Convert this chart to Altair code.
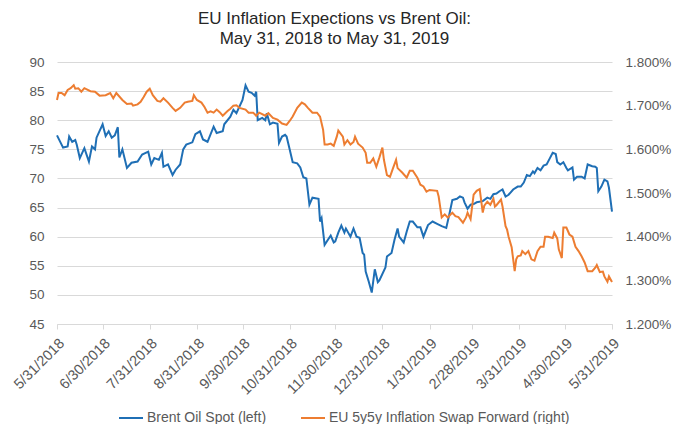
import altair as alt
import pandas as pd

TITLE = ["EU Inflation Expections vs Brent Oil:", "May 31, 2018 to May 31, 2019"]
BRENT_LABEL = "Brent Oil Spot (left)"
SWAP_LABEL = "EU 5y5y Inflation Swap Forward (right)"
START = "2018-05-31"

# Brent oil spot (USD/bbl); dates given as days after 5/31/2018
brent_days = [0, 4, 7, 8, 10, 12, 13, 15, 18, 21, 23, 25, 26, 30, 32, 34, 36, 38, 40, 41,
              43, 46, 49, 53, 56, 60, 62, 64, 67, 69, 70, 73, 76, 78, 81, 83, 85, 89, 91, 94,
              96, 99, 103, 105, 109, 110, 114, 116, 118, 122, 124, 126, 128, 130, 131, 132, 135, 137, 138, 140,
              142, 145, 146, 148, 150, 151, 153, 155, 158, 160, 162, 164, 166, 168, 172, 173, 174, 176, 180, 182,
              183, 185, 187, 189, 190, 193, 195, 197, 199, 201, 202, 203, 205, 207, 209, 211, 212, 216, 217, 220,
              222, 224, 225, 228, 230, 232, 234, 237, 239, 241, 244, 247, 250, 253, 256, 258, 260, 263, 265, 267,
              268, 270, 272, 274, 276, 280, 283, 285, 287, 289, 291, 293, 295, 297, 300, 303, 305, 307, 309, 311,
              313, 314, 316, 318, 320, 322, 324, 326, 328, 329, 331, 333, 335, 336, 339, 340, 342, 345, 347, 349,
              352, 354, 355, 356, 358, 360, 362, 363, 365]
brent_values = [77.4, 75.3, 75.5, 77.2, 76.3, 76.6, 75.8, 73.5, 75.2, 72.9, 75.5, 75.0, 77.0, 79.3, 77.3, 78.1, 77.0, 77.4, 78.8, 73.6,
                75.0, 71.8, 72.7, 72.9, 74.1, 74.6, 72.4, 73.5, 73.2, 74.4, 72.0, 72.4, 70.6, 71.5, 72.4, 75.0, 75.8, 76.2, 77.6, 78.1,
                76.7, 76.3, 78.9, 77.8, 78.1, 79.3, 80.6, 81.8, 81.2, 83.5, 86.0, 84.9, 84.7, 84.2, 84.9, 80.0, 80.4, 80.0, 81.2, 79.3,
                79.6, 79.4, 76.1, 77.2, 77.5, 77.2, 75.0, 72.8, 72.6, 71.9, 70.2, 70.0, 65.5, 66.7, 66.5, 62.6, 63.2, 58.6, 60.2, 59.0,
                59.2, 60.7, 61.9, 60.7, 61.4, 60.0, 61.4, 60.0, 59.8, 57.2, 56.9, 54.0, 52.3, 50.4, 54.4, 52.2, 52.5, 54.7, 56.6, 57.2,
                59.5, 61.4, 60.0, 59.0, 60.9, 62.6, 62.6, 61.6, 61.6, 60.0, 62.0, 62.6, 62.2, 61.8, 61.5, 63.8, 66.3, 66.5, 66.9, 66.7,
                65.9, 64.8, 65.5, 65.6, 65.9, 66.1, 66.7, 66.5, 67.3, 67.4, 67.8, 68.1, 66.9, 67.2, 68.1, 68.6, 68.6, 69.3, 70.6, 70.4,
                71.2, 70.9, 71.8, 71.4, 72.2, 72.4, 73.4, 74.4, 74.2, 72.8, 72.4, 72.8, 71.8, 71.4, 71.9, 69.8, 70.3, 70.3, 70.0, 72.4,
                72.1, 72.0, 71.8, 67.8, 68.6, 69.8, 69.5, 68.4, 64.3]

# EU 5y5y inflation swap forward (%); dates as days after 5/31/2018
swap_days = [0, 1, 3, 5, 7, 9, 11, 12, 14, 16, 18, 22, 25, 28, 32, 35, 37, 39, 43, 46,
             49, 50, 53, 55, 57, 59, 61, 63, 66, 68, 70, 73, 76, 78, 81, 84, 86, 89, 90, 92,
             95, 97, 99, 101, 103, 105, 107, 109, 112, 114, 116, 118, 120, 124, 126, 129, 131, 133, 137, 139,
             142, 145, 148, 151, 153, 155, 158, 161, 163, 165, 168, 171, 173, 175, 176, 178, 180, 182, 184, 185,
             188, 189, 191, 193, 195, 196, 198, 201, 203, 204, 206, 208, 210, 212, 214, 215, 217, 219, 221, 223,
             224, 227, 230, 232, 234, 237, 239, 241, 243, 245, 250, 251, 253, 255, 257, 260, 262, 264, 267, 269,
             270, 272, 274, 276, 278, 280, 281, 283, 285, 287, 288, 289, 292, 293, 295, 296, 297, 299, 301, 302,
             303, 305, 306, 308, 310, 312, 314, 316, 318, 320, 321, 323, 326, 327, 329, 330, 332, 333, 335, 337,
             339, 341, 343, 345, 347, 349, 352, 354, 355, 357, 359, 360, 362, 363, 365]
swap_values = [1.713, 1.729, 1.729, 1.724, 1.736, 1.740, 1.747, 1.739, 1.740, 1.732, 1.740, 1.733, 1.732, 1.723, 1.724, 1.729, 1.717, 1.729, 1.713, 1.704,
               1.705, 1.700, 1.703, 1.709, 1.720, 1.732, 1.739, 1.724, 1.711, 1.709, 1.717, 1.707, 1.695, 1.688, 1.695, 1.707, 1.709, 1.711, 1.724, 1.713,
               1.707, 1.697, 1.684, 1.687, 1.684, 1.691, 1.685, 1.677, 1.687, 1.693, 1.700, 1.701, 1.695, 1.691, 1.684, 1.684, 1.677, 1.684, 1.677, 1.683,
               1.672, 1.668, 1.659, 1.656, 1.665, 1.675, 1.695, 1.707, 1.703, 1.695, 1.684, 1.684, 1.675, 1.645, 1.611, 1.611, 1.613, 1.608, 1.629, 1.643,
               1.629, 1.611, 1.621, 1.611, 1.617, 1.629, 1.613, 1.604, 1.592, 1.569, 1.569, 1.579, 1.560, 1.581, 1.604, 1.576, 1.541, 1.537, 1.557, 1.576,
               1.557, 1.547, 1.535, 1.551, 1.551, 1.535, 1.519, 1.515, 1.503, 1.507, 1.505, 1.492, 1.444, 1.451, 1.444, 1.455, 1.447, 1.445, 1.432, 1.444,
               1.455, 1.440, 1.496, 1.505, 1.509, 1.455, 1.471, 1.480, 1.473, 1.487, 1.469, 1.472, 1.485, 1.469, 1.424, 1.416, 1.400, 1.376, 1.321, 1.348,
               1.355, 1.357, 1.367, 1.360, 1.367, 1.348, 1.345, 1.367, 1.377, 1.377, 1.400, 1.400, 1.397, 1.409, 1.396, 1.371, 1.351, 1.421, 1.421, 1.405,
               1.400, 1.377, 1.367, 1.355, 1.341, 1.321, 1.321, 1.329, 1.335, 1.319, 1.320, 1.309, 1.297, 1.309, 1.296]

left_ticks = [45, 50, 55, 60, 65, 70, 75, 80, 85, 90]
right_ticks = [1.2, 1.3, 1.4, 1.5, 1.6, 1.7, 1.8]
month_ends = [(2018, 5, 31), (2018, 6, 30), (2018, 7, 31), (2018, 8, 31), (2018, 9, 30),
              (2018, 10, 31), (2018, 11, 30), (2018, 12, 31), (2019, 1, 31), (2019, 2, 28),
              (2019, 3, 31), (2019, 4, 30), (2019, 5, 31)]

start = pd.Timestamp(START)
brent = pd.DataFrame({"date": start + pd.to_timedelta(brent_days, unit="D"),
                      "value": brent_values, "series": BRENT_LABEL})
swap = pd.DataFrame({"date": start + pd.to_timedelta(swap_days, unit="D"),
                     "value": swap_values, "series": SWAP_LABEL})

FONT = "Liberation Sans"
LABEL = "#595959"
GRID = "#d9d9d9"

tick_dates = [alt.DateTime(year=y, month=m, date=d) for (y, m, d) in month_ends]

x_enc = alt.X("date:T", title=None,
              scale=alt.Scale(domain=[tick_dates[0], tick_dates[-1]]),
              axis=alt.Axis(values=tick_dates, format="%-m/%-d/%Y", labelAngle=-45,
                            labelAlign="right", labelBaseline="top", labelPadding=7,
                            grid=False, ticks=True, tickSize=5, tickColor=GRID,
                            domainColor=GRID, labelFontSize=14.5, labelColor=LABEL,
                            labelFont=FONT, labelOverlap=False, labelFlush=False))

color_enc = alt.Color("series:N",
                      scale=alt.Scale(domain=[BRENT_LABEL, SWAP_LABEL], range=["#1f6fb5", "#ed7d31"]),
                      legend=alt.Legend(title=None, orient="none", legendX=61, legendY=343,
                                        direction="horizontal", symbolType="stroke",
                                        symbolSize=576, symbolStrokeWidth=2, labelFontSize=14,
                                        labelColor=LABEL, labelFont=FONT, labelOffset=3,
                                        labelLimit=400, columnPadding=30))

left = alt.Chart(brent).mark_line(strokeWidth=2).encode(
    x=x_enc,
    y=alt.Y("value:Q", title=None,
            scale=alt.Scale(domain=[45, 90], nice=False, zero=False),
            axis=alt.Axis(orient="left", values=left_ticks, format="d", grid=True,
                          gridColor=GRID, domain=False, ticks=False, labelPadding=13,
                          labelFontSize=13.5, labelColor=LABEL, labelFont=FONT)),
    color=color_enc,
)

right = alt.Chart(swap).mark_line(strokeWidth=2).encode(
    x=x_enc,
    y=alt.Y("value:Q", title=None,
            scale=alt.Scale(domain=[1.2, 1.8], nice=False, zero=False),
            axis=alt.Axis(orient="right", values=right_ticks, grid=False, domain=False,
                          ticks=False, labelPadding=13, labelFontSize=13.5,
                          labelColor=LABEL, labelFont=FONT,
                          labelExpr="format(datum.value, '.3f') + '%'")),
    color=color_enc,
)

chart = alt.layer(left, right).resolve_scale(y="independent").properties(
    width=555,
    height=262,
    autosize=alt.AutoSizeParams(type="none"),
    padding={"left": 49, "top": 54, "right": 60, "bottom": 100},
    title=alt.TitleParams(text=TITLE, fontSize=17, font=FONT, fontWeight="normal",
                          color="#262626", anchor="middle", lineHeight=20, offset=7),
).configure_view(stroke=None)

chart.save("out.html", embed_options={"renderer": "svg", "actions": False})
